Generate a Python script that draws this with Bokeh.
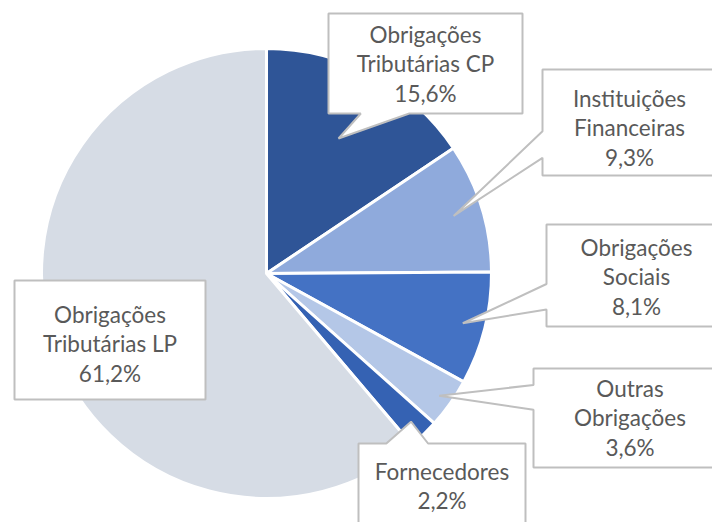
import math
from bokeh.plotting import figure
from bokeh.models import Range1d
from bokeh.embed import file_html
from bokeh.resources import INLINE
from bokeh.core.properties import value

# ---------------- data ----------------
categories = ["Obrigações\nTributárias CP", "Instituições\nFinanceiras", "Obrigações\nSociais",
              "Outras\nObrigações", "Fornecedores", "Obrigações\nTributárias LP"]
shares = [15.6, 9.3, 8.1, 3.6, 2.2, 61.2]
colors = ["#2F5597", "#8FAADC", "#4472C4", "#B4C7E7", "#3562B3", "#D6DCE5"]

# ---------------- layout (pixels, top-left origin) ----------------
W, H = 712, 522
CX, CY, R = 266, 273, 225
# label boxes: left, top, right, bottom ; pointer edge ; tip radius fraction ; first-line cap-centre y
boxes = [(328, 13, 522, 113), (542, 69, 716, 175), (546, 224, 726, 326),
         (533, 368, 726, 467), (358, 443, 525, 545), (14, 280, 205, 399)]
edges = ["bottom", "left", "left", "left", "top", None]
tipfrac = [0.68, 0.87, 0.90, 0.94, 0.92, None]
first_line = [35, 99, 248, 389, 472, 315]
LINE = 29.5
BASE_SHIFT = -1.5


def Y(py):
    return H - py


p = figure(width=W, height=H, x_range=Range1d(0, W), y_range=Range1d(0, H),
           output_backend="svg", toolbar_location=None, min_border=0,
           x_axis_location=None, y_axis_location=None)
p.grid.visible = False
p.outline_line_color = None
p.background_fill_color = "white"

total = sum(shares)
cum = 0.0
starts, ends, mids = [], [], []
for v in shares:
    s = cum / total
    cum += v
    e = cum / total
    starts.append(math.pi / 2 - 2 * math.pi * s)
    ends.append(math.pi / 2 - 2 * math.pi * e)
    mids.append(2 * math.pi * (s + e) / 2)

p.wedge(x=[CX] * len(shares), y=[Y(CY)] * len(shares), radius=R,
        start_angle=starts, end_angle=ends, direction="clock",
        fill_color=colors, line_color="white", line_width=3)


def callout(box, edge, tip):
    l, t, r, b = box
    w, h = r - l, b - t
    pts = [(l, t)]
    if edge == "top":
        f1, f2 = (1 / 6, 5 / 12) if tip[0] < l + w / 2 else (7 / 12, 5 / 6)
        pts += [(l + w * f1, t), tip, (l + w * f2, t)]
    pts.append((r, t))
    if edge == "right":
        f1, f2 = (1 / 6, 5 / 12) if tip[1] < t + h / 2 else (7 / 12, 5 / 6)
        pts += [(r, t + h * f1), tip, (r, t + h * f2)]
    pts.append((r, b))
    if edge == "bottom":
        f1, f2 = (1 / 6, 5 / 12) if tip[0] < l + w / 2 else (7 / 12, 5 / 6)
        pts += [(l + w * f2, b), tip, (l + w * f1, b)]
    pts.append((l, b))
    if edge == "left":
        f1, f2 = (1 / 6, 5 / 12) if tip[1] < t + h / 2 else (7 / 12, 5 / 6)
        pts += [(l, t + h * f2), tip, (l, t + h * f1)]
    return [q[0] for q in pts], [Y(q[1]) for q in pts]


xs, ys = [], []
for i in range(len(shares)):
    tip = None
    if edges[i] is not None:
        a = mids[i]
        tip = (CX + tipfrac[i] * R * math.sin(a), CY - tipfrac[i] * R * math.cos(a))
    px, py = callout(boxes[i], edges[i], tip)
    xs.append(px)
    ys.append(py)

p.patches(xs=xs, ys=ys, fill_color="white", line_color="#BFBFBF", line_width=2)

tx, ty, tt = [], [], []
for i, (cat, v) in enumerate(zip(categories, shares)):
    lines = cat.split("\n") + [f"{v:.1f}".replace(".", ",") + "%"]
    l, t, r, b = boxes[i]
    cx = (l + r) / 2
    for k, s in enumerate(lines):
        tx.append(cx)
        ty.append(Y(first_line[i] + k * LINE + BASE_SHIFT))
        tt.append(s)

p.text(x=tx, y=ty, text=tt, text_align="center", text_baseline="alphabetic",
       text_font=value("Lato"), text_font_size="22.5px", text_color="#595959")

open("out.html", "w").write(file_html(p, INLINE))
